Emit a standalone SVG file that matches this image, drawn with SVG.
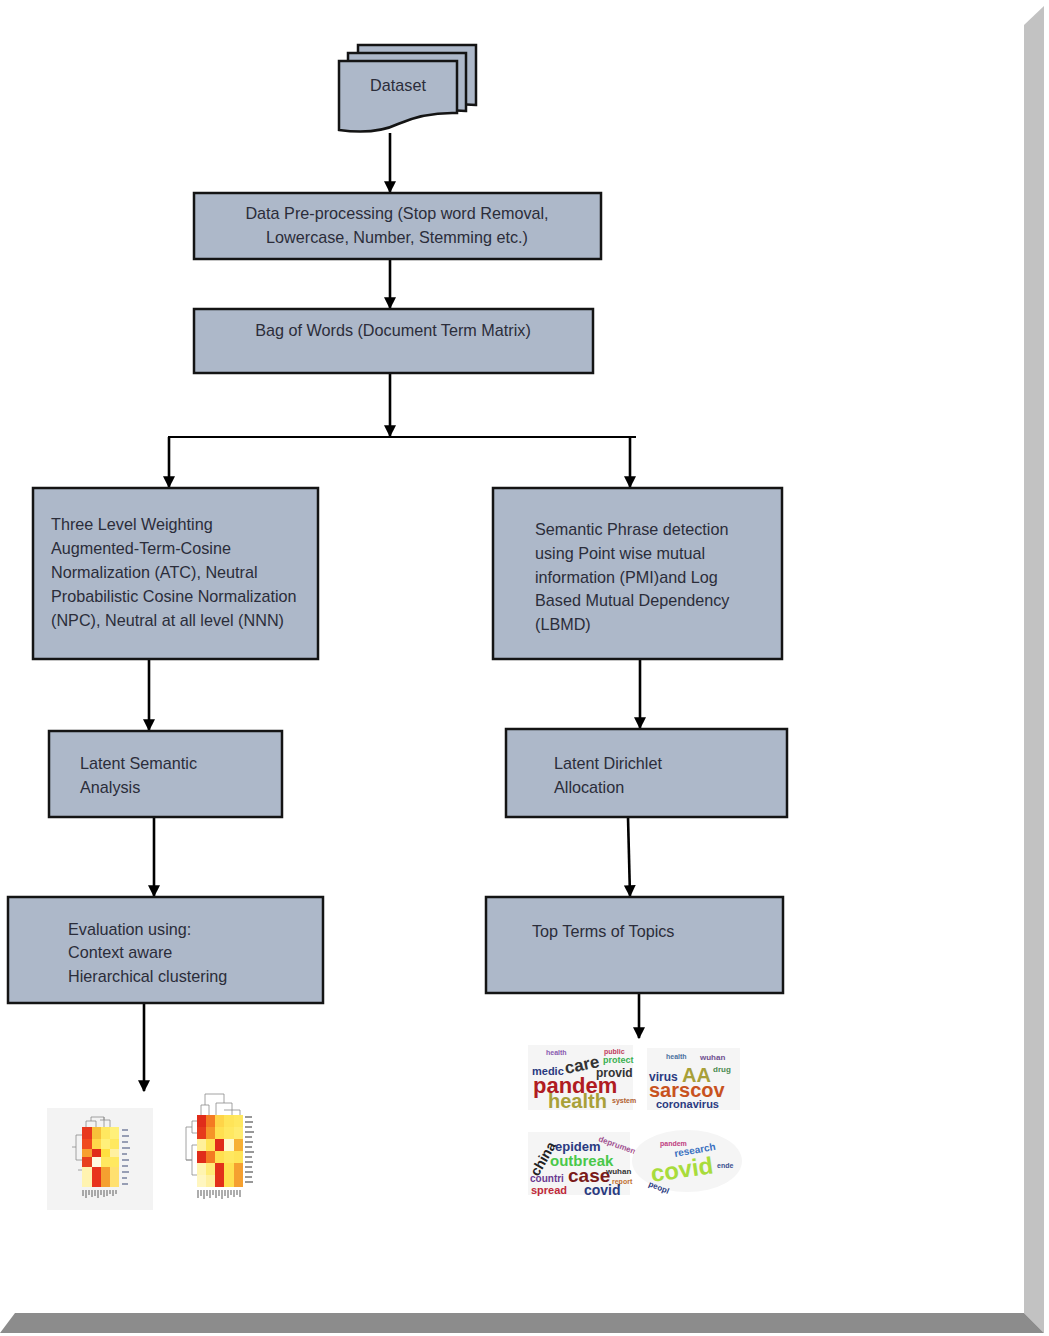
<svg xmlns="http://www.w3.org/2000/svg" width="1049" height="1336" viewBox="0 0 1049 1336">
<style>
.box{fill:#adb8c9;stroke:#141414;stroke-width:2.5}
.t{font-family:"Liberation Sans",Arial,sans-serif;font-size:16.2px;fill:#2b2d3a}
.c{stroke:#000;stroke-width:2.6;fill:none}
.wc{font-family:"Liberation Sans",Arial,sans-serif;font-weight:bold}
.dg{stroke:#8a8a8a;stroke-width:0.8;fill:none}
</style>
<defs>
<marker id="ah" viewBox="0 0 10 10" refX="9" refY="5" markerWidth="4.6" markerHeight="4.6" orient="auto" markerUnits="strokeWidth">
<path d="M0,0 L10,5 L0,10 z" fill="#000"/>
</marker>
</defs>
<rect width="1049" height="1336" fill="#fff"/>
<g id="frame">
<polygon points="1024,25 1044,6 1044,1333 1024,1313" fill="#c2c2c2"/>
<polygon points="15,1313 1024,1313 1044,1333 0,1333" fill="#8c8c8c"/>
</g>
<g id="connectors">
<line class="c" x1="390" y1="133" x2="390" y2="192" marker-end="url(#ah)"/>
<line class="c" x1="390" y1="259" x2="390" y2="308" marker-end="url(#ah)"/>
<line class="c" x1="390" y1="373" x2="390" y2="436" marker-end="url(#ah)"/>
<line x1="168" y1="437" x2="636" y2="437" stroke="#000" stroke-width="1.8"/>
<line class="c" x1="169" y1="437" x2="169" y2="487" marker-end="url(#ah)"/>
<line class="c" x1="630" y1="437" x2="630" y2="487" marker-end="url(#ah)"/>
<line class="c" x1="149" y1="659" x2="149" y2="730" marker-end="url(#ah)"/>
<line class="c" x1="154" y1="817" x2="154" y2="896" marker-end="url(#ah)"/>
<line class="c" x1="144" y1="1003" x2="144" y2="1091" marker-end="url(#ah)"/>
<line class="c" x1="640" y1="659" x2="640" y2="728" marker-end="url(#ah)"/>
<line class="c" x1="628" y1="817" x2="630" y2="896" marker-end="url(#ah)"/>
<line class="c" x1="639" y1="982" x2="639" y2="1038" marker-end="url(#ah)"/>
</g>
<g id="dataset">
<path class="box" d="M358,45 H476 V105 Q440,102 417,110 Q395,117 358,112 Z"/>
<path class="box" d="M348,53 H466 V111 Q430,108 407,116 Q385,123 348,118 Z"/>
<path class="box" d="M339,61 H457 V113 Q425,112 398,124 Q375,135 339,130 Z"/>
<text class="t" x="398" y="91" text-anchor="middle">Dataset</text>
</g>
<g id="preprocessing">
<rect class="box" x="194" y="193" width="407" height="66"/>
<text class="t" x="397" y="219" text-anchor="middle">Data Pre-processing (Stop word Removal,</text>
<text class="t" x="397" y="243" text-anchor="middle">Lowercase, Number, Stemming etc.)</text>
</g>
<g id="bow">
<rect class="box" x="194" y="309" width="399" height="64"/>
<text class="t" x="393" y="336" text-anchor="middle">Bag of Words (Document Term Matrix)</text>
</g>
<g id="weighting">
<rect class="box" x="33" y="488" width="285" height="171"/>
<text class="t" x="51" y="530">Three Level Weighting</text>
<text class="t" x="51" y="554">Augmented-Term-Cosine</text>
<text class="t" x="51" y="578">Normalization (ATC), Neutral</text>
<text class="t" x="51" y="602">Probabilistic Cosine Normalization</text>
<text class="t" x="51" y="626">(NPC), Neutral at all level (NNN)</text>
</g>
<g id="phrase">
<rect class="box" x="493" y="488" width="289" height="171"/>
<text class="t" x="535" y="535">Semantic Phrase detection</text>
<text class="t" x="535" y="559">using Point wise mutual</text>
<text class="t" x="535" y="583">information (PMI)and Log</text>
<text class="t" x="535" y="606">Based Mutual Dependency</text>
<text class="t" x="535" y="630">(LBMD)</text>
</g>
<g id="lsa">
<rect class="box" x="49" y="731" width="233" height="86"/>
<text class="t" x="80" y="769">Latent Semantic</text>
<text class="t" x="80" y="793">Analysis</text>
</g>
<g id="lda">
<rect class="box" x="506" y="729" width="281" height="88"/>
<text class="t" x="554" y="769">Latent Dirichlet</text>
<text class="t" x="554" y="793">Allocation</text>
</g>
<g id="evaluation">
<rect class="box" x="8" y="897" width="315" height="106"/>
<text class="t" x="68" y="935">Evaluation using:</text>
<text class="t" x="68" y="958">Context aware</text>
<text class="t" x="68" y="982">Hierarchical clustering</text>
</g>
<g id="topterms">
<rect class="box" x="486" y="897" width="297" height="96"/>
<text class="t" x="532" y="937">Top Terms of Topics</text>
</g>
<g id="heatmaps">
<rect x="47" y="1108" width="106" height="102" fill="#f3f3f3"/>
<path class="dg" d="M86,1127 V1121 H96 V1127 M91,1121 V1117 H104 V1127 M104,1117 V1120 M100,1120 H110 V1127 M76,1135 H82 M76,1135 V1160 H82 M72,1147 H76 M78,1170 H82"/>
<rect x="82" y="1127" width="10" height="12" fill="#e8381e"/>
<rect x="92" y="1127" width="9" height="12" fill="#f7c03a"/>
<rect x="101" y="1127" width="9" height="12" fill="#ffe860"/>
<rect x="110" y="1127" width="9" height="12" fill="#fff07a"/>
<rect x="82" y="1139" width="10" height="10" fill="#f04a1e"/>
<rect x="92" y="1139" width="9" height="10" fill="#ffd84a"/>
<rect x="101" y="1139" width="9" height="10" fill="#fff07a"/>
<rect x="110" y="1139" width="9" height="10" fill="#ffe860"/>
<rect x="82" y="1149" width="10" height="8" fill="#f7a030"/>
<rect x="92" y="1149" width="9" height="8" fill="#e02c1a"/>
<rect x="101" y="1149" width="9" height="8" fill="#ffe040"/>
<rect x="110" y="1149" width="9" height="8" fill="#fff0a0"/>
<rect x="82" y="1157" width="10" height="10" fill="#e8401e"/>
<rect x="92" y="1157" width="9" height="10" fill="#fffbe0"/>
<rect x="101" y="1157" width="9" height="10" fill="#ffe860"/>
<rect x="110" y="1157" width="9" height="10" fill="#ffe860"/>
<rect x="82" y="1167" width="10" height="20" fill="#fff3b0"/>
<rect x="92" y="1167" width="9" height="20" fill="#e8341c"/>
<rect x="101" y="1167" width="9" height="20" fill="#f5a030"/>
<rect x="110" y="1167" width="9" height="20" fill="#ffe070"/>
<path d="M83,1190 V1196 M86,1190 V1198 M89,1190 V1195 M92,1190 V1197 M95,1190 V1196 M98,1190 V1198 M101,1190 V1195 M104,1190 V1197 M107,1190 V1196 M110,1190 V1194 M113,1190 V1196 M116,1190 V1194" stroke="#777" stroke-width="1.2"/>
<path d="M122,1130 H128 M122,1136 H129 M122,1142 H128 M122,1148 H130 M122,1154 H127 M122,1160 H129 M122,1166 H128 M122,1172 H129 M122,1178 H127 M122,1184 H128" stroke="#7a82a0" stroke-width="1.5"/>
<path class="dg" d="M201,1115 V1105 H209 V1115 M205,1105 V1094 H224 V1103 M216,1103 H232 V1115 M216,1103 V1115 M224,1110 H240 V1115 M192,1121 H197 M192,1121 V1133 H197 M186,1127 H192 M186,1127 V1160 H192 M192,1145 V1175 H197 M192,1145 H197 M186,1160 H192"/>
<rect x="197" y="1115" width="9" height="12" fill="#e02c1a"/>
<rect x="206" y="1115" width="9" height="12" fill="#f47a22"/>
<rect x="215" y="1115" width="9" height="12" fill="#ffd448"/>
<rect x="224" y="1115" width="10" height="12" fill="#ffe458"/>
<rect x="234" y="1115" width="9" height="12" fill="#ffe860"/>
<rect x="197" y="1127" width="9" height="12" fill="#e63a1c"/>
<rect x="206" y="1127" width="9" height="12" fill="#f59428"/>
<rect x="215" y="1127" width="9" height="12" fill="#ffe050"/>
<rect x="224" y="1127" width="10" height="12" fill="#ffe860"/>
<rect x="234" y="1127" width="9" height="12" fill="#ffec70"/>
<rect x="197" y="1139" width="9" height="12" fill="#fff09a"/>
<rect x="206" y="1139" width="9" height="12" fill="#ffe458"/>
<rect x="215" y="1139" width="9" height="12" fill="#e02c1a"/>
<rect x="224" y="1139" width="10" height="12" fill="#fffad0"/>
<rect x="234" y="1139" width="9" height="12" fill="#f7b034"/>
<rect x="197" y="1151" width="9" height="12" fill="#e02c1a"/>
<rect x="206" y="1151" width="9" height="12" fill="#f47a22"/>
<rect x="215" y="1151" width="9" height="12" fill="#ffe050"/>
<rect x="224" y="1151" width="10" height="12" fill="#ffe860"/>
<rect x="234" y="1151" width="9" height="12" fill="#ffe458"/>
<rect x="197" y="1163" width="9" height="12" fill="#fff4b0"/>
<rect x="206" y="1163" width="9" height="12" fill="#ffec78"/>
<rect x="215" y="1163" width="9" height="24" fill="#e2301a"/>
<rect x="224" y="1163" width="10" height="24" fill="#ffe050"/>
<rect x="234" y="1163" width="9" height="24" fill="#f5a030"/>
<rect x="197" y="1175" width="9" height="12" fill="#fff6c0"/>
<rect x="206" y="1175" width="9" height="12" fill="#fff0a0"/>
<path d="M198,1190 V1198 M201,1190 V1196 M204,1190 V1199 M207,1190 V1196 M210,1190 V1198 M213,1190 V1195 M216,1190 V1198 M219,1190 V1196 M222,1190 V1199 M225,1190 V1196 M228,1190 V1198 M231,1190 V1195 M234,1190 V1197 M237,1190 V1195 M240,1190 V1197" stroke="#777" stroke-width="1.2"/>
<path d="M245,1117 H252 M245,1122 H253 M245,1127 H252 M245,1132 H254 M245,1137 H252 M245,1142 H253 M245,1147 H252 M245,1152 H254 M245,1157 H252 M245,1162 H253 M245,1167 H252 M245,1172 H253 M245,1177 H252 M245,1182 H253" stroke="#777" stroke-width="1.3"/>
</g>
<g id="wordclouds">
<rect x="528" y="1045" width="105" height="65" fill="#f5f5f5"/>
<text class="wc" x="546" y="1055" font-size="7" fill="#8a5ab0">health</text>
<text class="wc" x="604" y="1054" font-size="7" fill="#c04060">public</text>
<text class="wc" x="532" y="1075" font-size="11" fill="#2a3a80">medic</text>
<text class="wc" x="566" y="1074" font-size="17" fill="#333" transform="rotate(-12 566 1074)">care</text>
<text class="wc" x="603" y="1063" font-size="9" fill="#3ab050">protect</text>
<text class="wc" x="596" y="1077" font-size="12" fill="#333">provid</text>
<text class="wc" x="533" y="1093" font-size="22" fill="#b01c22">pandem</text>
<text class="wc" x="548" y="1108" font-size="20" fill="#a8a038">health</text>
<text class="wc" x="612" y="1103" font-size="7" fill="#b06030">system</text>
<rect x="647" y="1048" width="93" height="62" fill="#f5f5f5"/>
<text class="wc" x="666" y="1059" font-size="7" fill="#4a70a0">health</text>
<text class="wc" x="700" y="1060" font-size="8" fill="#705090">wuhan</text>
<text class="wc" x="649" y="1081" font-size="12" fill="#2a3a80">virus</text>
<text class="wc" x="682" y="1082" font-size="20" fill="#a8a038">AA</text>
<text class="wc" x="713" y="1072" font-size="8" fill="#4a8a50">drug</text>
<text class="wc" x="649" y="1097" font-size="20" fill="#c8521e">sarscov</text>
<text class="wc" x="656" y="1108" font-size="11" fill="#2a3a80">coronavirus</text>
<rect x="528" y="1132" width="102" height="63" fill="#f5f5f5"/>
<text class="wc" x="538" y="1177" font-size="14" fill="#222" transform="rotate(-60 538 1177)">china</text>
<text class="wc" x="555" y="1151" font-size="13" fill="#2a3a80">epidem</text>
<text class="wc" x="598" y="1141" font-size="8" fill="#a05090" transform="rotate(20 598 1141)">deprument</text>
<text class="wc" x="550" y="1166" font-size="15" fill="#4ac84a">outbreak</text>
<text class="wc" x="530" y="1182" font-size="10" fill="#6a3a90">countri</text>
<text class="wc" x="568" y="1182" font-size="19" fill="#7a1a1a">case</text>
<text class="wc" x="606" y="1174" font-size="8" fill="#333">wuhan</text>
<text class="wc" x="612" y="1184" font-size="7" fill="#c07030">report</text>
<text class="wc" x="584" y="1195" font-size="14" fill="#2a3a80">covid</text>
<text class="wc" x="531" y="1194" font-size="11" fill="#c02a3a">spread</text>
<ellipse cx="687" cy="1161" rx="55" ry="31" fill="#f5f5f5"/>
<text class="wc" x="660" y="1146" font-size="7" fill="#c04080">pandem</text>
<text class="wc" x="675" y="1157" font-size="10" fill="#3a70c0" transform="rotate(-10 675 1157)">research</text>
<text class="wc" x="652" y="1182" font-size="24" fill="#a8dc3c" transform="rotate(-8 652 1182)">covid</text>
<text class="wc" x="717" y="1168" font-size="7" fill="#3a5090">ende</text>
<text class="wc" x="648" y="1186" font-size="8" fill="#2a3a80" transform="rotate(22 648 1186)">peopl</text>
</g>
</svg>
